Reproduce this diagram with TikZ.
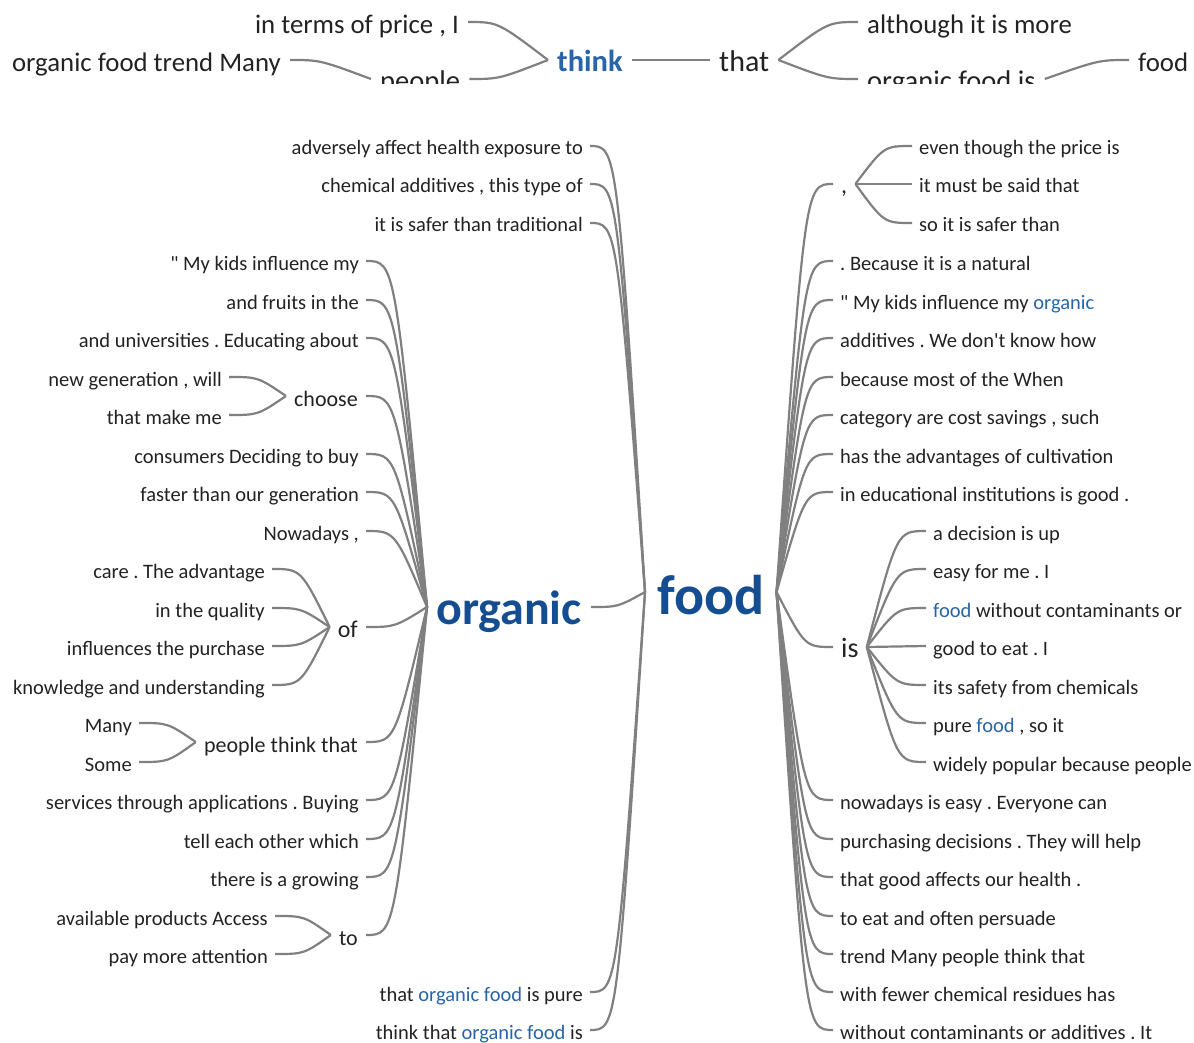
\documentclass[tikz,border=0pt]{standalone}
\usepackage{fontspec}
\setmainfont{Carlito}[Ligatures=TeXOff]
\definecolor{txt}{RGB}{34,34,34}
\definecolor{hb}{RGB}{40,100,168}
\definecolor{bb}{RGB}{20,78,145}
\definecolor{ln}{RGB}{128,128,128}
\tikzset{
  base/.style={inner ysep=0pt, text depth=0pt, text=txt},
  w/.style={base, font=\fontsize{20.5}{24}\selectfont, text height=18pt, inner xsep=7pt},
  wt/.style={base, font=\fontsize{26.8}{30}\selectfont, text height=24pt, inner xsep=9pt},
  wp/.style={base, font=\fontsize{28.5}{32}\selectfont, text height=24pt, inner xsep=9pt},
  wm/.style={base, font=\fontsize{#1}{#1}\selectfont, text height=20pt, inner xsep=8pt},
  conn/.style={draw=ln, line width=2.2pt},
}
\newcommand\hl[1]{\textcolor{hb}{#1}}
\newcommand\lk[3]{\draw[conn] (#1) .. controls +(#3,0) .. (#2);}
\frenchspacing
\begin{document}
\frenchspacing
\begin{tikzpicture}[x=1pt,y=-1pt]
\useasboundingbox (0,0) rectangle (1194,1043);
% ---------------- top tree (clipped) ----------------
\begin{scope}
\clip (0,0) rectangle (1194,84);
\node[base, font=\bfseries\fontsize{30.5}{34}\selectfont, text=hb, text height=24pt, inner xsep=9pt, anchor=west] (think) at (548,60) {think};
\node[wt, anchor=east] (tA) at (468,22) {in terms of price , I};
\node[wt, anchor=east] (tB) at (290,60) {organic food trend Many};
\node[wp, anchor=west] (people) at (371,79) {people};
\node[base, font=\fontsize{30}{34}\selectfont, text height=24pt, inner xsep=9pt, anchor=west] (that) at (710,60) {that};
\node[wt, anchor=west] (although) at (858,22) {although it is more};
\node[wp, anchor=west] (ofi) at (858,79) {organic food is};
\node[wt, anchor=west] (tfood) at (1129,60) {food};
\lk{tA.east}{think.west}{30}
\lk{tB.east}{people.west}{30}
\lk{people.east}{think.west}{30}
\draw[conn] (think.east) -- (that.west);
\lk{although.west}{that.east}{-30}
\lk{ofi.west}{that.east}{-30}
\lk{tfood.west}{ofi.east}{-30}
\end{scope}
% ---------------- main tree ----------------
\node[base, font=\bfseries\fontsize{56}{60}\selectfont, text=bb, text height=45pt, inner xsep=12pt, anchor=west] (food) at (645,592) {food};
\node[base, font=\bfseries\fontsize{48}{52}\selectfont, text=bb, text height=34pt, inner xsep=9pt, anchor=east] (organic) at (591,607) {organic};
% left children of food
\node[w, anchor=east] (fa1) at (590,146) {adversely affect health exposure to};
\node[w, anchor=east] (fa2) at (590,184) {chemical additives , this type of};
\node[w, anchor=east] (fa3) at (590,223) {it is safer than traditional};
\node[w, anchor=east] (fa5) at (590,992) {that \hl{organic food} is pure};
\node[w, anchor=east] (fa6) at (590,1030) {think that \hl{organic food} is};
\foreach \n in {fa1,fa2,fa3,organic,fa5,fa6} {\lk{\n.east}{food.west}{27}}
% left children of organic
\node[w, anchor=east] (o1) at (366,261) {" My kids influence my};
\node[w, anchor=east] (o2) at (366,300) {and fruits in the};
\node[w, anchor=east] (o3) at (366,338) {and universities . Educating about};
\node[wm=22, anchor=east] (choose) at (366,396) {choose};
\node[w, anchor=east] (o5) at (366,454) {consumers Deciding to buy};
\node[w, anchor=east] (o6) at (366,492) {faster than our generation};
\node[w, anchor=east] (o7) at (366,531) {Nowadays ,};
\node[wm=24, anchor=east] (of) at (366,627) {of};
\node[wm=22, anchor=east] (ptt) at (366,742) {people think that};
\node[w, anchor=east] (o10) at (366,800) {services through applications . Buying};
\node[w, anchor=east] (o11) at (366,839) {tell each other which};
\node[w, anchor=east] (o12) at (366,877) {there is a growing};
\node[wm=22, anchor=east] (to) at (366,935) {to};
\foreach \n in {o1,o2,o3,choose,o5,o6,o7,of,ptt,o10,o11,o12,to} {\lk{\n.east}{organic.west}{29}}
% choose
\node[w, anchor=east] (c1) at (229,377) {new generation , will};
\node[w, anchor=east] (c2) at (229,415) {that make me};
\lk{c1.east}{choose.west}{29}
\lk{c2.east}{choose.west}{29}
% of
\node[w, anchor=east] (of1) at (272,569) {care . The advantage};
\node[w, anchor=east] (of2) at (272,608) {in the quality};
\node[w, anchor=east] (of3) at (272,646) {influences the purchase};
\node[w, anchor=east] (of4) at (272,685) {knowledge and understanding};
\foreach \n in {of1,of2,of3,of4} {\lk{\n.east}{of.west}{29}}
% people think that
\node[w, anchor=east] (p1) at (139,723) {Many};
\node[w, anchor=east] (p2) at (139,762) {Some};
\lk{p1.east}{ptt.west}{29}
\lk{p2.east}{ptt.west}{29}
% to
\node[w, anchor=east] (t1) at (275,916) {available products Access};
\node[w, anchor=east] (t2) at (275,954) {pay more attention};
\lk{t1.east}{to.west}{29}
\lk{t2.east}{to.west}{29}
% right children of food
\node[wm=24, anchor=west] (comma) at (833,184) {,};
\node[w, anchor=west] (r2) at (833,261) {. Because it is a natural};
\node[w, anchor=west] (r3) at (833,300) {" My kids influence my \hl{organic}};
\node[w, anchor=west] (r4) at (833,338) {additives . We don't know how};
\node[w, anchor=west] (r5) at (833,377) {because most of the When};
\node[w, anchor=west] (r6) at (833,415) {category are cost savings , such};
\node[w, anchor=west] (r7) at (833,454) {has the advantages of cultivation};
\node[w, anchor=west] (r8) at (833,492) {in educational institutions is good .};
\node[wm=28, anchor=west] (is) at (833,647) {is};
\node[w, anchor=west] (r10) at (833,800) {nowadays is easy . Everyone can};
\node[w, anchor=west] (r11) at (833,839) {purchasing decisions . They will help};
\node[w, anchor=west] (r12) at (833,877) {that good affects our health .};
\node[w, anchor=west] (r13) at (833,916) {to eat and often persuade};
\node[w, anchor=west] (r14) at (833,954) {trend Many people think that};
\node[w, anchor=west] (r15) at (833,992) {with fewer chemical residues has};
\node[w, anchor=west] (r16) at (833,1030) {without contaminants or additives . It};
\foreach \n in {comma,r2,r3,r4,r5,r6,r7,r8,is,r10,r11,r12,r13,r14,r15,r16} {\lk{\n.west}{food.east}{-28}}
% comma children
\node[w, anchor=west] (cm1) at (912,146) {even though the price is};
\node[w, anchor=west] (cm2) at (912,184) {it must be said that};
\node[w, anchor=west] (cm3) at (912,223) {so it is safer than};
\foreach \n in {cm1,cm2,cm3} {\lk{\n.west}{comma.east}{-28}}
% is children
\node[w, anchor=west] (i1) at (926,531) {a decision is up};
\node[w, anchor=west] (i2) at (926,569) {easy for me . I};
\node[w, anchor=west] (i3) at (926,608) {\hl{food} without contaminants or};
\node[w, anchor=west] (i4) at (926,646) {good to eat . I};
\node[w, anchor=west] (i5) at (926,685) {its safety from chemicals};
\node[w, anchor=west] (i6) at (926,723) {pure \hl{food} , so it};
\node[w, anchor=west] (i7) at (926,762) {widely popular because people};
\foreach \n in {i1,i2,i3,i4,i5,i6,i7} {\lk{\n.west}{is.east}{-29}}
\end{tikzpicture}
\end{document}
